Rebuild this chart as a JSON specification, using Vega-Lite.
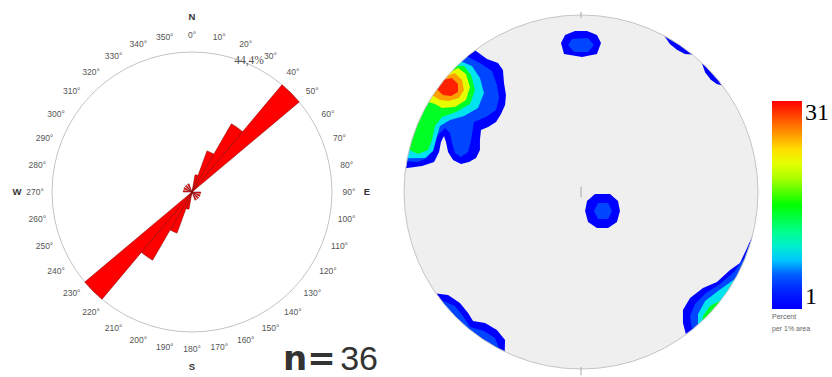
{
  "$schema": "https://vega.github.io/schema/vega-lite/v6.json",
  "padding": {"top": 7, "left": 0, "right": 0, "bottom": 0},
  "background": "white",
  "spacing": 0,
  "config": {"view": {"stroke": null}},
  "resolve": {"scale": {"theta": "independent", "radius": "independent", "fill": "independent"}, "legend": {"fill": "independent"}},
  "datasets": {
    "ring": [{"a0": 0, "a1": 360, "pct": 44.44}],
    "petals": [
      {"a0": 10, "a1": 20, "pct": 5.56}, {"a0": 20, "a1": 30, "pct": 13.89}, {"a0": 30, "a1": 40, "pct": 25}, {"a0": 40, "a1": 50, "pct": 44.44},
      {"a0": 190, "a1": 200, "pct": 5.56}, {"a0": 200, "a1": 210, "pct": 13.89}, {"a0": 210, "a1": 220, "pct": 25}, {"a0": 220, "a1": 230, "pct": 44.44},
      {"a0": 90, "a1": 100, "pct": 2.78}, {"a0": 270, "a1": 280, "pct": 2.78},
      {"a0": 110, "a1": 120, "pct": 2.78}, {"a0": 290, "a1": 300, "pct": 2.78},
      {"a0": 130, "a1": 140, "pct": 2.78}, {"a0": 310, "a1": 320, "pct": 2.78},
      {"a0": 150, "a1": 160, "pct": 2.78}, {"a0": 330, "a1": 340, "pct": 2.78}
    ],
    "degrees": [
      {"deg": 0, "label": "0°"}, {"deg": 10, "label": "10°"}, {"deg": 20, "label": "20°"}, {"deg": 30, "label": "30°"}, {"deg": 40, "label": "40°"}, {"deg": 50, "label": "50°"},
      {"deg": 60, "label": "60°"}, {"deg": 70, "label": "70°"}, {"deg": 80, "label": "80°"}, {"deg": 90, "label": "90°"}, {"deg": 100, "label": "100°"}, {"deg": 110, "label": "110°"},
      {"deg": 120, "label": "120°"}, {"deg": 130, "label": "130°"}, {"deg": 140, "label": "140°"}, {"deg": 150, "label": "150°"}, {"deg": 160, "label": "160°"}, {"deg": 170, "label": "170°"},
      {"deg": 180, "label": "180°"}, {"deg": 190, "label": "190°"}, {"deg": 200, "label": "200°"}, {"deg": 210, "label": "210°"}, {"deg": 220, "label": "220°"}, {"deg": 230, "label": "230°"},
      {"deg": 240, "label": "240°"}, {"deg": 250, "label": "250°"}, {"deg": 260, "label": "260°"}, {"deg": 270, "label": "270°"}, {"deg": 280, "label": "280°"}, {"deg": 290, "label": "290°"},
      {"deg": 300, "label": "300°"}, {"deg": 310, "label": "310°"}, {"deg": 320, "label": "320°"}, {"deg": 330, "label": "330°"}, {"deg": 340, "label": "340°"}, {"deg": 350, "label": "350°"}
    ],
    "compass": [{"deg": 0, "label": "N"}, {"deg": 90, "label": "E"}, {"deg": 180, "label": "S"}, {"deg": 270, "label": "W"}],
    "maxpct": [{"pct": 44.44, "label": "44,4%"}],
    "count": [{"label": "n=", "n": 36}],
    "disc": [{"u": 0, "v": 0, "r": 1, "rmask": 3}],
    "ticks": [{"u": 0, "v": -0.03, "v2": 0.03}, {"u": 0, "v": 0.983, "v2": 1.017}, {"u": 0, "v": -0.989, "v2": -1.034}],
    "blobs": [
      {"p": "nw1", "lev": 1, "i": 0, "u": -0.599, "v": 0.801}, {"p": "nw1", "lev": 1, "i": 1, "u": -0.531, "v": 0.751}, {"p": "nw1", "lev": 1, "i": 2, "u": -0.469, "v": 0.729},
      {"p": "nw1", "lev": 1, "i": 3, "u": -0.441, "v": 0.689}, {"p": "nw1", "lev": 1, "i": 4, "u": -0.435, "v": 0.616}, {"p": "nw1", "lev": 1, "i": 5, "u": -0.424, "v": 0.548},
      {"p": "nw1", "lev": 1, "i": 6, "u": -0.429, "v": 0.492}, {"p": "nw1", "lev": 1, "i": 7, "u": -0.452, "v": 0.441}, {"p": "nw1", "lev": 1, "i": 8, "u": -0.48, "v": 0.396},
      {"p": "nw1", "lev": 1, "i": 9, "u": -0.525, "v": 0.367}, {"p": "nw1", "lev": 1, "i": 10, "u": -0.565, "v": 0.35}, {"p": "nw1", "lev": 1, "i": 11, "u": -0.571, "v": 0.294},
      {"p": "nw1", "lev": 1, "i": 12, "u": -0.571, "v": 0.237}, {"p": "nw1", "lev": 1, "i": 13, "u": -0.593, "v": 0.192}, {"p": "nw1", "lev": 1, "i": 14, "u": -0.633, "v": 0.17},
      {"p": "nw1", "lev": 1, "i": 15, "u": -0.678, "v": 0.158}, {"p": "nw1", "lev": 1, "i": 16, "u": -0.723, "v": 0.181}, {"p": "nw1", "lev": 1, "i": 17, "u": -0.751, "v": 0.226},
      {"p": "nw1", "lev": 1, "i": 18, "u": -0.763, "v": 0.282}, {"p": "nw1", "lev": 1, "i": 19, "u": -0.774, "v": 0.316}, {"p": "nw1", "lev": 1, "i": 20, "u": -0.791, "v": 0.282},
      {"p": "nw1", "lev": 1, "i": 21, "u": -0.802, "v": 0.226}, {"p": "nw1", "lev": 1, "i": 22, "u": -0.83, "v": 0.17}, {"p": "nw1", "lev": 1, "i": 23, "u": -0.898, "v": 0.147},
      {"p": "nw1", "lev": 1, "i": 24, "u": -0.991, "v": 0.134}, {"p": "nw1", "lev": 1, "i": 25, "u": -1.14, "v": 0.154}, {"p": "nw1", "lev": 1, "i": 26, "u": -0.991, "v": 0.584},
      {"p": "nw1", "lev": 1, "i": 27, "u": -0.689, "v": 0.921},

      {"p": "ne1a", "lev": 1, "i": 0, "u": 0.47, "v": 0.883}, {"p": "ne1a", "lev": 1, "i": 1, "u": 0.502, "v": 0.836}, {"p": "ne1a", "lev": 1, "i": 2, "u": 0.542, "v": 0.804},
      {"p": "ne1a", "lev": 1, "i": 3, "u": 0.587, "v": 0.779}, {"p": "ne1a", "lev": 1, "i": 4, "u": 0.629, "v": 0.777}, {"p": "ne1a", "lev": 1, "i": 5, "u": 0.692, "v": 0.855},
      {"p": "ne1a", "lev": 1, "i": 6, "u": 0.517, "v": 0.971},
      {"p": "ne1b", "lev": 1, "i": 0, "u": 0.682, "v": 0.731}, {"p": "ne1b", "lev": 1, "i": 1, "u": 0.701, "v": 0.677}, {"p": "ne1b", "lev": 1, "i": 2, "u": 0.732, "v": 0.636},
      {"p": "ne1b", "lev": 1, "i": 3, "u": 0.767, "v": 0.61}, {"p": "ne1b", "lev": 1, "i": 4, "u": 0.799, "v": 0.602}, {"p": "ne1b", "lev": 1, "i": 5, "u": 0.879, "v": 0.662},
      {"p": "ne1b", "lev": 1, "i": 6, "u": 0.75, "v": 0.805},

      {"p": "n1", "lev": 1, "i": 0, "u": -0.034, "v": 0.91}, {"p": "n1", "lev": 1, "i": 1, "u": 0.034, "v": 0.91}, {"p": "n1", "lev": 1, "i": 2, "u": 0.09, "v": 0.887},
      {"p": "n1", "lev": 1, "i": 3, "u": 0.113, "v": 0.842}, {"p": "n1", "lev": 1, "i": 4, "u": 0.09, "v": 0.78}, {"p": "n1", "lev": 1, "i": 5, "u": 0.006, "v": 0.763},
      {"p": "n1", "lev": 1, "i": 6, "u": -0.096, "v": 0.78}, {"p": "n1", "lev": 1, "i": 7, "u": -0.113, "v": 0.842}, {"p": "n1", "lev": 1, "i": 8, "u": -0.09, "v": 0.887},

      {"p": "c1", "lev": 1, "i": 0, "u": 0.079, "v": -0.011}, {"p": "c1", "lev": 1, "i": 1, "u": 0.164, "v": -0.011}, {"p": "c1", "lev": 1, "i": 2, "u": 0.209, "v": -0.051},
      {"p": "c1", "lev": 1, "i": 3, "u": 0.22, "v": -0.107}, {"p": "c1", "lev": 1, "i": 4, "u": 0.203, "v": -0.17}, {"p": "c1", "lev": 1, "i": 5, "u": 0.153, "v": -0.203},
      {"p": "c1", "lev": 1, "i": 6, "u": 0.09, "v": -0.203}, {"p": "c1", "lev": 1, "i": 7, "u": 0.04, "v": -0.17}, {"p": "c1", "lev": 1, "i": 8, "u": 0.023, "v": -0.107},
      {"p": "c1", "lev": 1, "i": 9, "u": 0.034, "v": -0.051},

      {"p": "se1", "lev": 1, "i": 0, "u": 0.97, "v": -0.244}, {"p": "se1", "lev": 1, "i": 1, "u": 0.938, "v": -0.316}, {"p": "se1", "lev": 1, "i": 2, "u": 0.898, "v": -0.401},
      {"p": "se1", "lev": 1, "i": 3, "u": 0.842, "v": -0.441}, {"p": "se1", "lev": 1, "i": 4, "u": 0.768, "v": -0.509}, {"p": "se1", "lev": 1, "i": 5, "u": 0.689, "v": -0.542},
      {"p": "se1", "lev": 1, "i": 6, "u": 0.616, "v": -0.599}, {"p": "se1", "lev": 1, "i": 7, "u": 0.576, "v": -0.667}, {"p": "se1", "lev": 1, "i": 8, "u": 0.576, "v": -0.74},
      {"p": "se1", "lev": 1, "i": 9, "u": 0.593, "v": -0.805}, {"p": "se1", "lev": 1, "i": 10, "u": 0.682, "v": -0.926}, {"p": "se1", "lev": 1, "i": 11, "u": 0.953, "v": -0.643},
      {"p": "se1", "lev": 1, "i": 12, "u": 1.115, "v": -0.28},

      {"p": "sw1", "lev": 1, "i": 0, "u": -0.819, "v": -0.574}, {"p": "sw1", "lev": 1, "i": 1, "u": -0.751, "v": -0.582}, {"p": "sw1", "lev": 1, "i": 2, "u": -0.684, "v": -0.627},
      {"p": "sw1", "lev": 1, "i": 3, "u": -0.638, "v": -0.684}, {"p": "sw1", "lev": 1, "i": 4, "u": -0.61, "v": -0.729}, {"p": "sw1", "lev": 1, "i": 5, "u": -0.542, "v": -0.74},
      {"p": "sw1", "lev": 1, "i": 6, "u": -0.475, "v": -0.78}, {"p": "sw1", "lev": 1, "i": 7, "u": -0.429, "v": -0.836}, {"p": "sw1", "lev": 1, "i": 8, "u": -0.431, "v": -0.903},
      {"p": "sw1", "lev": 1, "i": 9, "u": -0.495, "v": -1.038}, {"p": "sw1", "lev": 1, "i": 10, "u": -0.739, "v": -0.881}, {"p": "sw1", "lev": 1, "i": 11, "u": -0.942, "v": -0.66},

      {"p": "nw5", "lev": 5, "i": 0, "u": -0.643, "v": 0.766}, {"p": "nw5", "lev": 5, "i": 1, "u": -0.571, "v": 0.729}, {"p": "nw5", "lev": 5, "i": 2, "u": -0.503, "v": 0.684},
      {"p": "nw5", "lev": 5, "i": 3, "u": -0.475, "v": 0.605}, {"p": "nw5", "lev": 5, "i": 4, "u": -0.463, "v": 0.531}, {"p": "nw5", "lev": 5, "i": 5, "u": -0.48, "v": 0.463},
      {"p": "nw5", "lev": 5, "i": 6, "u": -0.537, "v": 0.424}, {"p": "nw5", "lev": 5, "i": 7, "u": -0.605, "v": 0.395}, {"p": "nw5", "lev": 5, "i": 8, "u": -0.621, "v": 0.294},
      {"p": "nw5", "lev": 5, "i": 9, "u": -0.638, "v": 0.226}, {"p": "nw5", "lev": 5, "i": 10, "u": -0.678, "v": 0.198}, {"p": "nw5", "lev": 5, "i": 11, "u": -0.712, "v": 0.22},
      {"p": "nw5", "lev": 5, "i": 12, "u": -0.729, "v": 0.277}, {"p": "nw5", "lev": 5, "i": 13, "u": -0.74, "v": 0.333}, {"p": "nw5", "lev": 5, "i": 14, "u": -0.768, "v": 0.362},
      {"p": "nw5", "lev": 5, "i": 15, "u": -0.814, "v": 0.316}, {"p": "nw5", "lev": 5, "i": 16, "u": -0.836, "v": 0.237}, {"p": "nw5", "lev": 5, "i": 17, "u": -0.87, "v": 0.192},
      {"p": "nw5", "lev": 5, "i": 18, "u": -0.921, "v": 0.169}, {"p": "nw5", "lev": 5, "i": 19, "u": -0.985, "v": 0.174}, {"p": "nw5", "lev": 5, "i": 20, "u": -1.133, "v": 0.2},
      {"p": "nw5", "lev": 5, "i": 21, "u": -0.996, "v": 0.575}, {"p": "nw5", "lev": 5, "i": 22, "u": -0.739, "v": 0.881},

      {"p": "n5", "lev": 5, "i": 0, "u": -0.051, "v": 0.864}, {"p": "n5", "lev": 5, "i": 1, "u": 0.04, "v": 0.87}, {"p": "n5", "lev": 5, "i": 2, "u": 0.073, "v": 0.831},
      {"p": "n5", "lev": 5, "i": 3, "u": 0.04, "v": 0.791}, {"p": "n5", "lev": 5, "i": 4, "u": -0.04, "v": 0.791}, {"p": "n5", "lev": 5, "i": 5, "u": -0.073, "v": 0.831},

      {"p": "c5", "lev": 5, "i": 0, "u": 0.096, "v": -0.062}, {"p": "c5", "lev": 5, "i": 1, "u": 0.153, "v": -0.062}, {"p": "c5", "lev": 5, "i": 2, "u": 0.175, "v": -0.107},
      {"p": "c5", "lev": 5, "i": 3, "u": 0.153, "v": -0.153}, {"p": "c5", "lev": 5, "i": 4, "u": 0.096, "v": -0.153}, {"p": "c5", "lev": 5, "i": 5, "u": 0.073, "v": -0.107},

      {"p": "se5", "lev": 5, "i": 0, "u": 0.963, "v": -0.271}, {"p": "se5", "lev": 5, "i": 1, "u": 0.921, "v": -0.373}, {"p": "se5", "lev": 5, "i": 2, "u": 0.864, "v": -0.452},
      {"p": "se5", "lev": 5, "i": 3, "u": 0.785, "v": -0.52}, {"p": "se5", "lev": 5, "i": 4, "u": 0.706, "v": -0.571}, {"p": "se5", "lev": 5, "i": 5, "u": 0.644, "v": -0.633},
      {"p": "se5", "lev": 5, "i": 6, "u": 0.616, "v": -0.701}, {"p": "se5", "lev": 5, "i": 7, "u": 0.627, "v": -0.779}, {"p": "se5", "lev": 5, "i": 8, "u": 0.721, "v": -0.896},
      {"p": "se5", "lev": 5, "i": 9, "u": 0.953, "v": -0.643}, {"p": "se5", "lev": 5, "i": 10, "u": 1.107, "v": -0.311},

      {"p": "sw5", "lev": 5, "i": 0, "u": -0.792, "v": -0.61}, {"p": "sw5", "lev": 5, "i": 1, "u": -0.712, "v": -0.644}, {"p": "sw5", "lev": 5, "i": 2, "u": -0.667, "v": -0.701},
      {"p": "sw5", "lev": 5, "i": 3, "u": -0.627, "v": -0.763}, {"p": "sw5", "lev": 5, "i": 4, "u": -0.548, "v": -0.785}, {"p": "sw5", "lev": 5, "i": 5, "u": -0.486, "v": -0.825},
      {"p": "sw5", "lev": 5, "i": 6, "u": -0.46, "v": -0.888}, {"p": "sw5", "lev": 5, "i": 7, "u": -0.529, "v": -1.021}, {"p": "sw5", "lev": 5, "i": 8, "u": -0.739, "v": -0.881},
      {"p": "sw5", "lev": 5, "i": 9, "u": -0.911, "v": -0.702},

      {"p": "nw9", "lev": 9, "i": 0, "u": -0.676, "v": 0.737}, {"p": "nw9", "lev": 9, "i": 1, "u": -0.616, "v": 0.712}, {"p": "nw9", "lev": 9, "i": 2, "u": -0.571, "v": 0.644},
      {"p": "nw9", "lev": 9, "i": 3, "u": -0.548, "v": 0.559}, {"p": "nw9", "lev": 9, "i": 4, "u": -0.582, "v": 0.475}, {"p": "nw9", "lev": 9, "i": 5, "u": -0.661, "v": 0.429},
      {"p": "nw9", "lev": 9, "i": 6, "u": -0.74, "v": 0.407}, {"p": "nw9", "lev": 9, "i": 7, "u": -0.797, "v": 0.373}, {"p": "nw9", "lev": 9, "i": 8, "u": -0.819, "v": 0.294},
      {"p": "nw9", "lev": 9, "i": 9, "u": -0.836, "v": 0.232}, {"p": "nw9", "lev": 9, "i": 10, "u": -0.881, "v": 0.192}, {"p": "nw9", "lev": 9, "i": 11, "u": -0.982, "v": 0.191},
      {"p": "nw9", "lev": 9, "i": 12, "u": -1.129, "v": 0.219}, {"p": "nw9", "lev": 9, "i": 13, "u": -0.996, "v": 0.575}, {"p": "nw9", "lev": 9, "i": 14, "u": -0.777, "v": 0.848},

      {"p": "se9", "lev": 9, "i": 0, "u": 0.873, "v": -0.488}, {"p": "se9", "lev": 9, "i": 1, "u": 0.774, "v": -0.559}, {"p": "se9", "lev": 9, "i": 2, "u": 0.701, "v": -0.616},
      {"p": "se9", "lev": 9, "i": 3, "u": 0.661, "v": -0.689}, {"p": "se9", "lev": 9, "i": 4, "u": 0.661, "v": -0.75}, {"p": "se9", "lev": 9, "i": 5, "u": 0.76, "v": -0.863},
      {"p": "se9", "lev": 9, "i": 6, "u": 1.004, "v": -0.561},

      {"p": "nw15", "lev": 15, "i": 0, "u": -0.701, "v": 0.713}, {"p": "nw15", "lev": 15, "i": 1, "u": -0.661, "v": 0.712}, {"p": "nw15", "lev": 15, "i": 2, "u": -0.621, "v": 0.661},
      {"p": "nw15", "lev": 15, "i": 3, "u": -0.599, "v": 0.576}, {"p": "nw15", "lev": 15, "i": 4, "u": -0.627, "v": 0.497}, {"p": "nw15", "lev": 15, "i": 5, "u": -0.706, "v": 0.452},
      {"p": "nw15", "lev": 15, "i": 6, "u": -0.785, "v": 0.424}, {"p": "nw15", "lev": 15, "i": 7, "u": -0.825, "v": 0.373}, {"p": "nw15", "lev": 15, "i": 8, "u": -0.842, "v": 0.294},
      {"p": "nw15", "lev": 15, "i": 9, "u": -0.864, "v": 0.237}, {"p": "nw15", "lev": 15, "i": 10, "u": -0.921, "v": 0.215}, {"p": "nw15", "lev": 15, "i": 11, "u": -0.971, "v": 0.239},
      {"p": "nw15", "lev": 15, "i": 12, "u": -1.117, "v": 0.274}, {"p": "nw15", "lev": 15, "i": 13, "u": -0.996, "v": 0.575}, {"p": "nw15", "lev": 15, "i": 14, "u": -0.806, "v": 0.82},

      {"p": "se15", "lev": 15, "i": 0, "u": 0.792, "v": -0.61}, {"p": "se15", "lev": 15, "i": 1, "u": 0.729, "v": -0.644}, {"p": "se15", "lev": 15, "i": 2, "u": 0.689, "v": -0.701},
      {"p": "se15", "lev": 15, "i": 3, "u": 0.685, "v": -0.729}, {"p": "se15", "lev": 15, "i": 4, "u": 0.787, "v": -0.838}, {"p": "se15", "lev": 15, "i": 5, "u": 0.911, "v": -0.702},

      {"p": "nw22", "lev": 22, "i": 0, "u": -0.731, "v": 0.682}, {"p": "nw22", "lev": 22, "i": 1, "u": -0.695, "v": 0.701}, {"p": "nw22", "lev": 22, "i": 2, "u": -0.65, "v": 0.667},
      {"p": "nw22", "lev": 22, "i": 3, "u": -0.627, "v": 0.593}, {"p": "nw22", "lev": 22, "i": 4, "u": -0.65, "v": 0.52}, {"p": "nw22", "lev": 22, "i": 5, "u": -0.712, "v": 0.48},
      {"p": "nw22", "lev": 22, "i": 6, "u": -0.785, "v": 0.475}, {"p": "nw22", "lev": 22, "i": 7, "u": -0.825, "v": 0.497}, {"p": "nw22", "lev": 22, "i": 8, "u": -0.862, "v": 0.508},
      {"p": "nw22", "lev": 22, "i": 9, "u": -0.991, "v": 0.584}, {"p": "nw22", "lev": 22, "i": 10, "u": -0.841, "v": 0.784},

      {"p": "nw26", "lev": 26, "i": 0, "u": -0.755, "v": 0.656}, {"p": "nw26", "lev": 26, "i": 1, "u": -0.712, "v": 0.672}, {"p": "nw26", "lev": 26, "i": 2, "u": -0.672, "v": 0.633},
      {"p": "nw26", "lev": 26, "i": 3, "u": -0.661, "v": 0.576}, {"p": "nw26", "lev": 26, "i": 4, "u": -0.689, "v": 0.531}, {"p": "nw26", "lev": 26, "i": 5, "u": -0.746, "v": 0.514},
      {"p": "nw26", "lev": 26, "i": 6, "u": -0.797, "v": 0.52}, {"p": "nw26", "lev": 26, "i": 7, "u": -0.839, "v": 0.545}, {"p": "nw26", "lev": 26, "i": 8, "u": -0.964, "v": 0.626},
      {"p": "nw26", "lev": 26, "i": 9, "u": -0.868, "v": 0.754},

      {"p": "nw30", "lev": 30, "i": 0, "u": -0.772, "v": 0.636}, {"p": "nw30", "lev": 30, "i": 1, "u": -0.729, "v": 0.644}, {"p": "nw30", "lev": 30, "i": 2, "u": -0.695, "v": 0.61},
      {"p": "nw30", "lev": 30, "i": 3, "u": -0.695, "v": 0.565}, {"p": "nw30", "lev": 30, "i": 4, "u": -0.734, "v": 0.542}, {"p": "nw30", "lev": 30, "i": 5, "u": -0.78, "v": 0.548},
      {"p": "nw30", "lev": 30, "i": 6, "u": -0.814, "v": 0.581}, {"p": "nw30", "lev": 30, "i": 7, "u": -0.936, "v": 0.668}, {"p": "nw30", "lev": 30, "i": 8, "u": -0.887, "v": 0.731}
    ]
  },
  "hconcat": [
    {
      "width": 384,
      "height": 370,
      "layer": [
        {
          "data": {"name": "ring"},
          "mark": {"type": "arc", "fillOpacity": 0, "stroke": "#b3b3b3", "strokeWidth": 0.8},
          "encoding": {
            "theta": {"field": "a0", "type": "quantitative", "scale": {"domain": [0, 360]}, "stack": null},
            "theta2": {"field": "a1"},
            "radius": {"field": "pct", "type": "quantitative", "scale": {"type": "linear", "domain": [0, 44.44], "range": [0, 140], "zero": true}}
          }
        },
        {
          "data": {"name": "petals"},
          "mark": {"type": "arc", "fill": "#ff0000", "stroke": "#7a0000", "strokeWidth": 0.5},
          "encoding": {
            "theta": {"field": "a0", "type": "quantitative", "scale": {"domain": [0, 360]}, "stack": null},
            "theta2": {"field": "a1"},
            "radius": {"field": "pct", "type": "quantitative", "scale": {"type": "linear", "domain": [0, 44.44], "range": [0, 140], "zero": true}}
          }
        },
        {
          "data": {"name": "degrees"},
          "mark": {"type": "text", "radius": 157, "fontSize": 8.5, "font": "Liberation Sans", "color": "#555555", "align": "center", "baseline": "middle"},
          "encoding": {
            "theta": {"field": "deg", "type": "quantitative", "scale": {"domain": [0, 360]}, "stack": null},
            "text": {"field": "label"}
          }
        },
        {
          "data": {"name": "compass"},
          "mark": {"type": "text", "radius": 175, "fontSize": 9.5, "fontWeight": "bold", "font": "Liberation Sans", "color": "#333333", "align": "center", "baseline": "middle"},
          "encoding": {
            "theta": {"field": "deg", "type": "quantitative", "scale": {"domain": [0, 360]}, "stack": null},
            "text": {"field": "label"}
          }
        },
        {
          "data": {"name": "maxpct"},
          "mark": {"type": "text", "theta": 0.41, "radiusOffset": 3, "fontSize": 11.5, "font": "Liberation Serif", "color": "#555555", "align": "center", "baseline": "middle"},
          "encoding": {
            "radius": {"field": "pct", "type": "quantitative", "scale": {"type": "linear", "domain": [0, 44.44], "range": [0, 140], "zero": true}},
            "text": {"field": "label"}
          }
        },
        {
          "data": {"name": "count"},
          "mark": {"type": "text", "theta": 2.669, "radius": 199.9, "fontSize": 34, "fontWeight": "bold", "font": "DejaVu Sans", "color": "#333333", "align": "left", "baseline": "alphabetic"},
          "encoding": {"text": {"field": "label"}}
        },
        {
          "data": {"name": "count"},
          "mark": {"type": "text", "theta": 2.3342, "radius": 257.4, "fontSize": 34, "font": "Liberation Sans", "color": "#333333", "align": "right", "baseline": "alphabetic"},
          "encoding": {"text": {"field": "n", "type": "quantitative"}}
        }
      ]
    },
    {
      "width": 448,
      "height": 370,
      "encoding": {
        "x": {"field": "u", "type": "quantitative", "scale": {"domain": [-1.113, 1.418], "nice": false, "zero": false}, "axis": null},
        "y": {"field": "v", "type": "quantitative", "scale": {"domain": [-1.045, 1.045], "nice": false, "zero": false}, "axis": null}
      },
      "layer": [
        {
          "data": {"name": "disc"},
          "mark": {"type": "arc", "theta": 0, "theta2": 6.2832, "fill": "#efefef"},
          "encoding": {"radius": {"field": "r", "type": "quantitative", "scale": {"type": "linear", "domain": [0, 1], "range": [0, 177], "zero": true}}}
        },
        {
          "data": {"name": "blobs"},
          "mark": {"type": "line", "strokeWidth": 0, "clip": true},
          "encoding": {
            "detail": {"field": "p"},
            "order": {"field": "i", "type": "quantitative"},
            "fill": {
              "field": "lev", "type": "quantitative",
              "scale": {"domain": [1, 3, 6, 8.5, 12, 16, 20, 23, 27, 31], "range": ["#0000ff", "#0010ff", "#0060ff", "#00e0ff", "#00ff90", "#00ff00", "#b0ff00", "#ffff00", "#ff8000", "#ff0000"], "interpolate": "rgb"},
              "legend": {
                "orient": "none", "legendX": 388, "legendY": 94, "direction": "vertical",
                "gradientLength": 208, "gradientThickness": 30, "gradientStrokeWidth": 0,
                "values": [1, 31], "format": "d", "labelOverlap": false,
                "labelFont": "Liberation Serif", "labelFontSize": 24, "labelColor": "#000000", "labelOffset": 3,
                "title": ["Percent", "per 1% area"], "titleOrient": "bottom", "titleAnchor": "start",
                "titleFont": "Liberation Sans", "titleFontSize": 7, "titleFontWeight": "normal", "titleColor": "#666666",
                "titleLineHeight": 12, "titlePadding": 4, "padding": 0
              }
            }
          }
        },
        {
          "data": {"name": "disc"},
          "mark": {"type": "arc", "theta": 0, "theta2": 6.2832, "fill": "#ffffff", "clip": true},
          "encoding": {
            "radius": {"field": "r", "type": "quantitative", "scale": {"type": "linear", "domain": [0, 1], "range": [0, 177], "zero": true}},
            "radius2": {"field": "rmask"}
          }
        },
        {
          "data": {"name": "disc"},
          "mark": {"type": "arc", "theta": 0, "theta2": 6.2832, "fillOpacity": 0, "stroke": "#c4c4c4", "strokeWidth": 1},
          "encoding": {"radius": {"field": "r", "type": "quantitative", "scale": {"type": "linear", "domain": [0, 1], "range": [0, 177], "zero": true}}}
        },
        {
          "data": {"name": "ticks"},
          "mark": {"type": "rule", "stroke": "#a8a8a8", "strokeWidth": 1},
          "encoding": {"y2": {"field": "v2"}}
        }
      ]
    }
  ]
}
